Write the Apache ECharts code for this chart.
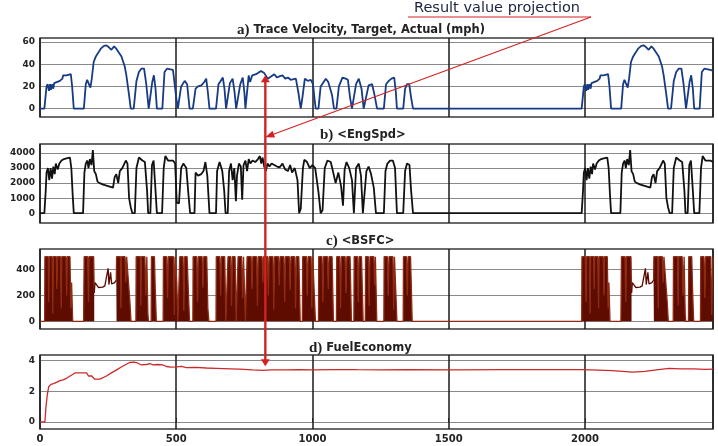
<!DOCTYPE html>
<html><head><meta charset="utf-8">
<script src="https://cdn.jsdelivr.net/npm/echarts@6/dist/echarts.min.js"></script>
<style>html,body{margin:0;padding:0;background:#fff}#c{width:718px;height:446px}</style>
</head><body><div id="c"></div>
<script>
// ---- data (time in s) ----
const velocity = [
[0,0],[16,0],[24,20],[28,22],[33,16],[37,22],[40,17],[45,22],[49,18],[52,23],[58,24],[73,25],[82,27],[85,30],[97,30],[113,31],[118,20],[124,0],
[161,0],[168,22],[173,26],[180,26],[185,19],[190,27],[197,42],[205,47],[213,50],[223,54],[235,56.5],[244,57],[254,55],[262,53],[272,56],[280,54],[288,51],[299,47],[311,38],[317,30],[327,12],[333,0],
[344,0],[354,25],[363,33],[372,36],[382,36],[390,22],[399,0],[405,0],[412,24],[418,30],[424,18],[429,0],[449,0],[457,33],[466,36],[488,35],[494,34],[500,10],[506,0],
[512,0],[518,20],[531,25],[540,22],[549,0],[561,0],[571,18],[580,20],[592,21],[603,24],[610,27],[616,15],[622,0],[646,0],[655,22],[663,25],[671,28],[677,18],[683,0],[689,0],[697,23],[707,27],[714,15],[720,0],[726,0],[735,22],[744,28],[750,15],[754,0],[759,0],[766,30],[771,24],[779,30],[793,31],[811,34],[823,32],[836,27],[848,29],[860,31],[870,28],[878,29],[890,30],[900,27],[910,28],[920,26],[939,27],[948,15],[957,0],[963,10],[972,27],[983,25],[994,26],[1002,22],[1008,8],[1012,0],
[1022,0],[1030,20],[1049,27],[1058,24],[1065,25],[1072,12],[1079,0],[1088,0],[1097,20],[1110,28],[1122,27],[1130,26],[1138,10],[1145,0],[1152,0],[1160,22],[1170,27],[1180,18],[1188,0],[1194,0],[1206,21],[1219,22],[1228,12],[1237,0],[1262,0],[1270,22],[1280,25],[1290,27],[1300,28],[1306,15],[1310,0],[1333,0],[1340,18],[1347,22],[1355,22],[1362,10],[1369,0],
[1988,0],[1996,20],[2000,22],[2005,16],[2009,22],[2012,17],[2017,22],[2021,18],[2024,23],[2030,24],[2045,25],[2054,27],[2057,30],[2069,30],[2085,31],[2090,20],[2096,0],[2133,0],[2140,22],[2145,26],[2152,26],[2157,19],[2162,27],[2169,42],[2177,47],[2185,50],[2195,54],[2207,56.5],[2216,57],[2226,55],[2234,53],[2244,56],[2252,54],[2260,51],[2271,47],[2283,38],[2289,30],[2299,12],[2305,0],[2316,0],[2326,25],[2335,33],[2344,36],[2354,36],[2362,22],[2371,0],[2377,0],[2384,24],[2390,30],[2396,18],[2401,0],[2421,0],[2429,33],[2438,36],[2460,35],[2470,34]
];
const engSpd = [
[0,0],[16,0],[21,1500],[24,2700],[29,3000],[34,2200],[39,3000],[44,2300],[49,3100],[54,2600],[58,3300],[65,2900],[71,3300],[79,3500],[88,3600],[97,3650],[110,3700],[115,3000],[120,1200],[124,0],
[158,0],[163,2700],[168,3300],[174,3500],[178,3000],[183,3600],[189,3200],[194,4200],[199,2800],[205,2600],[211,2100],[219,2000],[232,1900],[250,1800],[268,1700],[274,2400],[280,2600],[287,2000],[293,2800],[302,3000],[315,3500],[321,3300],[327,1000],[333,400],[339,0],
[348,0],[354,3000],[363,3700],[376,3500],[385,3400],[393,1500],[397,0],[405,0],[411,3200],[417,3500],[424,1500],[429,0],[448,0],[454,3000],[460,3800],[470,3500],[488,3500],[496,3300],[502,700],[510,650],[518,3000],[526,3300],[537,3000],[545,1200],[551,0],[567,0],[571,2700],[580,2500],[592,2600],[600,2800],[607,3400],[614,2500],[622,0],[646,0],[650,2800],[659,3400],[665,3300],[669,2800],[676,1500],[681,0],[689,0],[694,2800],[701,3300],[707,2200],[713,3000],[719,800],[723,2500],[730,3300],[737,3100],[742,900],[747,3200],[754,3500],[760,2800],[766,3600],[772,3300],[780,3500],[790,3400],[800,3600],[807,3800],[812,3300],[817,3700],[823,3100],[829,2800],[835,3300],[842,3100],[850,3300],[860,3200],[870,3100],[880,3050],[890,3300],[900,2900],[910,2800],[918,3200],[925,2700],[935,3000],[945,2200],[951,0],[957,300],[965,3000],[970,3550],[980,3400],[990,3000],[1000,3200],[1010,3000],[1022,1400],[1030,0],[1037,200],[1045,3000],[1055,3500],[1067,3400],[1075,2800],[1085,2000],[1095,2700],[1105,1800],[1112,500],[1118,2900],[1125,3400],[1135,3000],[1145,2200],[1152,0],[1160,3000],[1170,3300],[1178,2500],[1185,0],[1192,0],[1198,2800],[1206,3100],[1215,2600],[1225,1700],[1233,0],[1262,0],[1268,2800],[1275,3300],[1285,3500],[1295,3500],[1303,3000],[1310,0],[1333,0],[1340,2800],[1347,3300],[1356,3200],[1362,1500],[1369,0],
[1988,0],[1993,1500],[1996,2700],[2001,3000],[2006,2200],[2011,3000],[2016,2300],[2021,3100],[2026,2600],[2030,3300],[2037,2900],[2043,3300],[2051,3500],[2060,3600],[2069,3650],[2082,3700],[2087,3000],[2092,1200],[2096,0],[2130,0],[2135,2700],[2140,3300],[2146,3500],[2150,3000],[2155,3600],[2161,3200],[2166,4200],[2171,2800],[2177,2600],[2183,2100],[2191,2000],[2204,1900],[2222,1800],[2240,1700],[2246,2400],[2252,2600],[2259,2000],[2265,2800],[2274,3000],[2287,3500],[2293,3300],[2299,1000],[2305,400],[2311,0],[2320,0],[2326,3000],[2335,3700],[2348,3500],[2357,3400],[2365,1500],[2369,0],[2377,0],[2383,3200],[2389,3500],[2396,1500],[2401,0],[2420,0],[2426,3000],[2432,3800],[2442,3500],[2460,3500],[2470,3400]
];
const bsfcBlocks = [
[0,0],[17,0],[18,500],[30,500],[32,150],[34,500],[45,500],[47,60],[49,500],[60,500],[62,250],[64,500],[75,500],[78,100],[80,500],[95,500],[98,200],[100,500],[110,500],[113,100],[116,300],[120,0],[160,0],[162,500],[175,500],[178,150],[180,500],[197,500],[199,220],[200,null],
[280,320],[281,500],[295,500],[297,100],[299,500],[312,500],[315,300],[318,500],[325,500],[330,150],[334,0],[352,0],[353,500],[368,500],[370,120],[372,500],[385,500],[388,200],[392,500],[396,60],[398,0],[408,0],[409,500],[420,500],[423,250],[427,0],[452,0],[453,500],[465,500],[468,180],[471,500],[490,500],[493,50],[496,500],[502,300],[506,0],
[512,0],[513,500],[525,500],[528,80],[531,500],[540,500],[545,200],[549,0],[561,0],[562,500],[575,500],[578,150],[581,500],[595,500],[598,260],[601,500],[612,500],[616,100],[620,0],[646,0],[647,500],[660,500],[663,200],[666,500],[678,500],[682,0],[689,0],[690,500],[700,500],[703,120],[706,500],[716,500],[720,0],[726,0],[727,500],[740,500],[744,180],[747,500],[754,0],[759,0],[760,500],[775,500],[778,250],[781,500],[795,500],[798,120],[801,500],[815,500],[818,300],[821,500],[835,500],[838,200],[841,500],[855,500],[858,90],[861,500],[875,500],[878,280],[881,500],[895,500],[898,150],[901,500],[915,500],[918,240],[921,500],[935,500],[938,100],[941,500],[950,500],[955,0],[963,0],[964,500],[978,500],[981,200],[984,500],[995,500],[998,100],[1001,500],[1008,500],[1011,0],[1022,0],[1023,500],[1035,500],[1038,150],[1041,500],[1055,500],[1058,250],[1061,500],[1072,500],[1077,0],[1088,0],[1089,500],[1100,500],[1103,100],[1106,500],[1120,500],[1123,220],[1126,500],[1138,500],[1143,0],[1152,0],[1153,500],[1165,500],[1168,150],[1171,500],[1180,500],[1186,0],[1194,0],[1195,500],[1205,500],[1208,120],[1211,500],[1225,500],[1228,280],[1231,500],[1236,0],[1262,0],[1263,500],[1275,500],[1278,200],[1281,500],[1295,500],[1298,90],[1301,500],[1308,500],[1310,0],[1333,0],[1334,500],[1345,500],[1348,200],[1351,500],[1360,500],[1366,0],[1988,0],
[1989,500],[2001,500],[2004,150],[2006,500],[2017,500],[2019,60],[2021,500],[2032,500],[2034,250],[2036,500],[2047,500],[2050,100],[2052,500],[2067,500],[2070,200],[2072,500],[2082,500],[2085,100],[2088,300],[2092,0],[2132,0],[2134,500],[2147,500],[2150,150],[2152,500],[2169,500],[2171,220],[2172,null],
[2252,320],[2253,500],[2267,500],[2269,100],[2271,500],[2284,500],[2287,300],[2290,500],[2297,500],[2302,150],[2306,0],[2324,0],[2325,500],[2340,500],[2342,120],[2344,500],[2357,500],[2360,200],[2364,500],[2368,60],[2370,0],[2380,0],[2381,500],[2392,500],[2395,250],[2399,0],[2424,0],[2425,500],[2437,500],[2440,180],[2443,500],[2462,500],[2465,50],[2470,500]
];
const bsfcCruise = [
[199,220],[202,300],[208,285],[215,262],[222,270],[230,265],[238,275],[244,268],[250,410],[253,285],[259,380],[263,290],[268,285],[274,300],[280,320],[281,null],
[2171,220],[2174,300],[2180,285],[2187,262],[2194,270],[2202,265],[2210,275],[2216,268],[2222,410],[2225,285],[2231,380],[2235,290],[2240,285],[2246,300],[2252,320]
];
const fuelEconomy = [
[0,0],[18,0],[22,1.0],[27,1.8],[32,2.3],[37,2.3],[40,2.45],[45,2.35],[50,2.5],[55,2.45],[62,2.6],[73,2.7],[85,2.75],[97,2.85],[110,3.0],[120,3.1],[128,3.2],[150,3.2],[171,3.2],[178,3.0],[185,2.9],[190,3.0],[195,2.95],[200,2.8],[207,2.7],[220,2.8],[244,3.0],[262,3.2],[281,3.4],[300,3.6],[315,3.75],[329,3.88],[345,3.9],[358,3.85],[372,3.72],[390,3.75],[405,3.8],[415,3.72],[430,3.75],[450,3.72],[464,3.62],[480,3.58],[500,3.6],[520,3.63],[537,3.55],[570,3.56],[610,3.52],[647,3.5],[700,3.47],[732,3.45],[780,3.4],[817,3.37],[850,3.4],[900,3.4],[951,3.41],[1000,3.4],[1073,3.42],[1120,3.42],[1164,3.41],[1250,3.4],[1350,3.41],[1528,3.4],[1700,3.41],[1992,3.41],[2050,3.38],[2100,3.35],[2175,3.25],[2220,3.3],[2270,3.42],[2309,3.5],[2350,3.47],[2400,3.46],[2440,3.43],[2470,3.45]
];
const xTicks = [0, 500, 1000, 1500, 2000];
const velTicks = [0, 20, 40, 60];
const engTicks = [0, 1000, 2000, 3000, 4000];
const bsfcTicks = [0, 200, 400];
const fuelTicks = [0, 2, 4];
const panelMarks = ['a)', 'b)', 'c)', 'd)'];
const panelTitles = ['Trace Velocity, Target, Actual (mph)', '<EngSpd>', '<BSFC>', 'FuelEconomy'];
const annotationText = 'Result value projection';
const projectionTime = 827;

// ---- layout ----
const chart = echarts.init(document.getElementById('c'), null, {renderer: 'canvas'});
const grids = [
  {left: 40, right: 5, top: 38, height: 79},
  {left: 40, right: 5, top: 144, height: 79},
  {left: 40, right: 5, top: 249, height: 80},
  {left: 40, right: 5, top: 355, height: 74}
];
const yRanges = [[-7.5, 63.6], [-650, 4600], [-59, 560], [-0.46, 4.37]];
const yTickSets = [velTicks, engTicks, bsfcTicks, fuelTicks];
const titlePos = [[237, 23], [320, 128], [326, 234], [309, 341]];
const yLabelStyle = {fontFamily: 'DejaVu Sans', fontWeight: 'bold', fontSize: 9, color: '#222'};
const xLabelStyle = {fontFamily: 'DejaVu Sans', fontWeight: 'bold', fontSize: 10, color: '#222'};
const plain = v => String(v);

const option = {
  animation: false,
  backgroundColor: '#fff',
  title: panelMarks.map((m, i) => ({
    left: titlePos[i][0], top: titlePos[i][1], padding: 0,
    text: '{p|' + m + '}{t| ' + panelTitles[i] + '}',
    textStyle: {rich: {
      p: {fontFamily: 'Liberation Serif', fontSize: 15, fontWeight: 'bold', color: '#222'},
      t: {fontFamily: 'DejaVu Sans', fontSize: 11.5, fontWeight: 'bold', color: '#222'}
    }}
  })),
  grid: grids.map(g => Object.assign({show: true, borderColor: '#3a3a3a', borderWidth: 1.5, backgroundColor: '#fff'}, g)),
  xAxis: grids.map((g, i) => ({
    type: 'value', gridIndex: i, min: 0, max: 2470, interval: 500,
    axisLine: {show: false},
    axisTick: {show: i === 3, inside: true, length: 4, lineStyle: {color: '#222'}},
    axisLabel: Object.assign({show: i === 3, showMaxLabel: false, margin: 5, formatter: plain}, xLabelStyle),
    splitLine: {show: true, lineStyle: {color: '#1a1a1a', width: 1.5}}
  })),
  yAxis: grids.map((g, i) => ({
    type: 'value', gridIndex: i, min: yRanges[i][0], max: yRanges[i][1],
    axisLine: {show: false},
    axisTick: {show: false, customValues: yTickSets[i]},
    axisLabel: Object.assign({margin: 5, customValues: yTickSets[i], formatter: plain}, yLabelStyle),
    splitLine: {show: true, lineStyle: {color: '#8a8a8a', width: 1.2}}
  })),
  series: [
    {type: 'line', xAxisIndex: 0, yAxisIndex: 0, data: velocity, showSymbol: false,
     lineStyle: {color: '#173a85', width: 1.8}, z: 3},
    {type: 'line', xAxisIndex: 1, yAxisIndex: 1, data: engSpd, showSymbol: false,
     lineStyle: {color: '#111', width: 1.8}, z: 3},
    {type: 'line', xAxisIndex: 2, yAxisIndex: 2, data: bsfcBlocks, showSymbol: false, connectNulls: false,
     lineStyle: {color: '#8e2b12', width: 1.3}, areaStyle: {color: '#5e0b00', opacity: 1}, z: 3},
    {type: 'line', xAxisIndex: 2, yAxisIndex: 2, data: bsfcCruise, showSymbol: false, connectNulls: false,
     lineStyle: {color: '#5a0a00', width: 1.3}, z: 3},
    {type: 'line', xAxisIndex: 3, yAxisIndex: 3, data: fuelEconomy, showSymbol: false,
     lineStyle: {color: '#cc2a2a', width: 1.3}, z: 3}
  ]
};
chart.setOption(option);

// ---- projection annotation, anchored to data coordinates ----
const red = '#d42222';
const pTop = chart.convertToPixel({gridIndex: 0}, [projectionTime, 30]);
const pBot = chart.convertToPixel({gridIndex: 3}, [projectionTime, 3.63]);
const pB = chart.convertToPixel({gridIndex: 1}, [projectionTime, 5050]);
const start = [591, 17];
function head(tip, from, len, half) {
  const dx = tip[0] - from[0], dy = tip[1] - from[1];
  const L = Math.sqrt(dx * dx + dy * dy), ux = dx / L, uy = dy / L;
  const bx = tip[0] - ux * len, by = tip[1] - uy * len;
  return [[tip[0], tip[1]], [bx - uy * half, by + ux * half], [bx + uy * half, by - ux * half]];
}
chart.setOption({graphic: [
  {type: 'text', x: 414, y: 8, z: 20, style: {text: annotationText, font: '14.5px "DejaVu Sans"', fill: '#1c2340', verticalAlign: 'middle'}},
  {type: 'line', z: 20, shape: {x1: 408, y1: 17, x2: start[0], y2: start[1]}, style: {stroke: red, lineWidth: 1.2}},
  {type: 'line', z: 20, shape: {x1: start[0], y1: start[1], x2: pB[0] + 6, y2: pB[1] - 2.2}, style: {stroke: red, lineWidth: 1.2}},
  {type: 'polygon', z: 20, shape: {points: head(pB, start, 9, 3.5)}, style: {fill: red}},
  {type: 'line', z: 20, shape: {x1: pTop[0], y1: pTop[1] + 6, x2: pBot[0], y2: pBot[1] - 6}, style: {stroke: red, lineWidth: 2.4}},
  {type: 'polygon', z: 20, shape: {points: head(pTop, [pTop[0], pTop[1] + 10], 7, 4.5)}, style: {fill: red}},
  {type: 'polygon', z: 20, shape: {points: head(pBot, [pBot[0], pBot[1] - 10], 7, 4.5)}, style: {fill: red}}
]});
</script>
</body></html>
